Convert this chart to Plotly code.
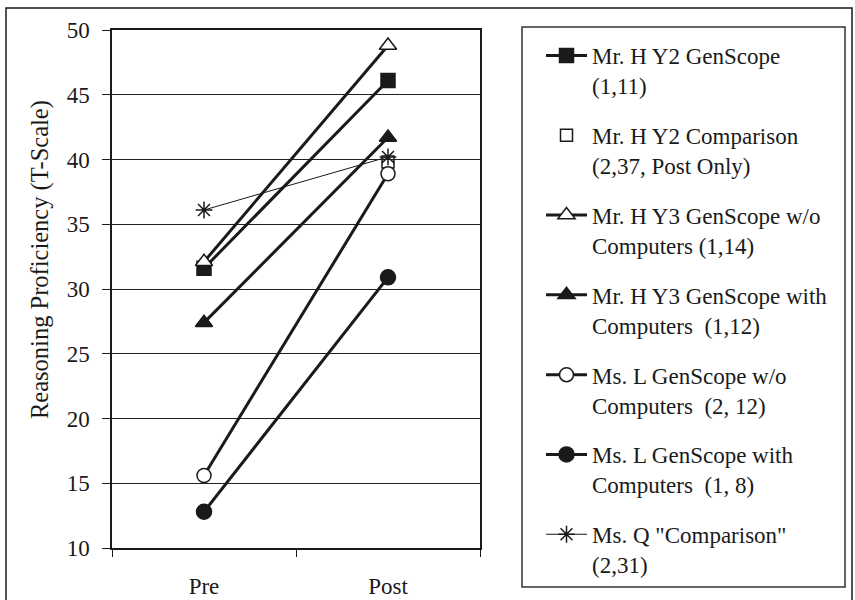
import plotly.graph_objects as go

# ---- data ----
phases = ["Pre", "Post"]

names = [
    "Mr. H Y2 GenScope<br>(1,11)",
    "Mr. H Y2 Comparison<br>(2,37, Post Only)",
    "Mr. H Y3 GenScope w/o<br>Computers (1,14)",
    "Mr. H Y3 GenScope with<br>Computers  (1,12)",
    "Ms. L GenScope w/o<br>Computers  (2, 12)",
    "Ms. L GenScope with<br>Computers  (1, 8)",
    "Ms. Q \"Comparison\"<br>(2,31)",
]

hy2_genscope = [31.6, 46.1]
hy2_comparison = [None, 39.8]
hy3_without = [32.1, 48.8]
hy3_with = [27.4, 41.7]
msl_without = [15.6, 38.9]
msl_with = [12.8, 30.9]
msq_comparison = [36.1, 40.2]

y_ticks = [10, 15, 20, 25, 30, 35, 40, 45, 50]
y_title = "Reasoning Proficiency (T-Scale)"

# ---- styling ----
INK = "#1a1a1a"
FONT = "Liberation Serif"
W, H = 855, 600
L, R, T, B = 112, 480, 30, 548  # plot area in pixels


def px_x(p):
    return (p - L) / (R - L)


def px_y(p):
    return (B - p) / (B - T)


series = [
    (names[0], hy2_genscope, "square", INK, 3, "lines+markers", 14),
    (names[1], hy2_comparison, "square-open", INK, 0, "markers", 12),
    (names[2], hy3_without, "triangle-up", "white", 3, "lines+markers", 15),
    (names[3], hy3_with, "triangle-up", INK, 3, "lines+markers", 15),
    (names[4], msl_without, "circle", "white", 3, "lines+markers", 14),
    (names[5], msl_with, "circle", INK, 3, "lines+markers", 15),
    (names[6], msq_comparison, "asterisk-open", INK, 1, "lines+markers", 14),
]

fig = go.Figure()
for i, (nm, vals, sym, fill, lw, mode, ms) in enumerate(series):
    marker = dict(symbol=sym, size=ms, color=fill,
                  line=dict(color=INK, width=1.5))
    kw = dict(x=phases, y=vals, name=nm, mode=mode, marker=marker,
              legendgroup=f"g{i}")
    if "lines" in mode:
        kw["line"] = dict(color=INK, width=lw)
    fig.add_trace(go.Scatter(**kw))

fig.update_layout(
    width=W, height=H,
    margin=dict(l=L, r=W - R, t=T, b=H - B, autoexpand=False),
    paper_bgcolor="white", plot_bgcolor="white",
    font=dict(family=FONT, size=23, color=INK),
    showlegend=True,
    legend=dict(
        x=px_x(541), y=px_y(34), xanchor="left", yanchor="top",
        borderwidth=0, bgcolor="rgba(0,0,0,0)",
        font=dict(family=FONT, size=23, color=INK),
        tracegroupgap=17, valign="top", traceorder="grouped",
        itemwidth=41, maxheight=590,
    ),
    xaxis=dict(
        type="category", categoryorder="array", categoryarray=phases,
        range=[-0.5, 1.5], tickson="boundaries", ticks="outside",
        ticklen=7, tickcolor=INK, showline=True, linecolor=INK,
        linewidth=1.5, mirror=True, showgrid=False, zeroline=False,
        tickfont=dict(family=FONT, size=23, color=INK),
        ticklabelstandoff=17,
    ),
    yaxis=dict(
        range=[10, 50], tickvals=y_ticks, ticks="outside", ticklen=8,
        tickcolor=INK, showline=True, linecolor=INK, linewidth=1.5,
        mirror=True, showgrid=True, gridcolor="#222", gridwidth=1,
        zeroline=False, ticklabelstandoff=8,
        tickfont=dict(family=FONT, size=23, color=INK),
    ),
    annotations=[dict(text=y_title, xref="paper", yref="paper",
                      x=px_x(40), y=px_y(260), textangle=-90,
                      showarrow=False, xanchor="center", yanchor="middle",
                      font=dict(family=FONT, size=24.5, color=INK))],
    shapes=[
        dict(type="rect", xref="paper", yref="paper",
             x0=px_x(6), x1=px_x(852), y0=px_y(610), y1=px_y(8),
             line=dict(color=INK, width=1.5), layer="below"),
        dict(type="rect", xref="paper", yref="paper",
             x0=px_x(522), x1=px_x(845), y0=px_y(587), y1=px_y(27),
             line=dict(color="#333", width=1.5), layer="below"),
    ],
)

fig.write_html("out.html", config={"displayModeBar": False},
               post_script="document.body.style.margin='0';")
